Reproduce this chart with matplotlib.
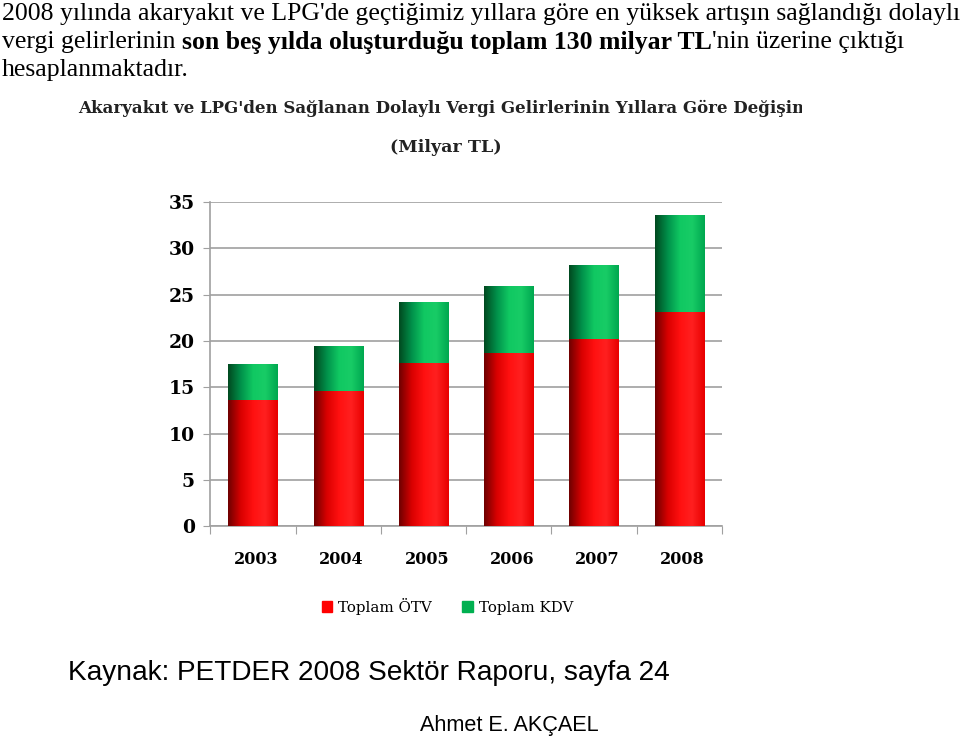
import numpy as np
import matplotlib
matplotlib.use("Agg")
import matplotlib.pyplot as plt
from matplotlib.colors import LinearSegmentedColormap
from matplotlib.transforms import Bbox, TransformedBbox

years = ["2003", "2004", "2005", "2006", "2007", "2008"]
otv = [13.6, 14.6, 17.6, 18.7, 20.2, 23.1]
kdv = [3.95, 4.85, 6.6, 7.2, 8.0, 10.5]
yticks = [0, 5, 10, 15, 20, 25, 30, 35]

serif = "DejaVu Serif"
fig = plt.figure(figsize=(9.6, 7.4), dpi=100)
fig.patch.set_facecolor("white")

# intro text on top
tfont = dict(family="Liberation Serif", fontsize=18.5)
fig.text(0.002, 0.981, "2008 yılında akaryakıt ve LPG'de geçtiğimiz yıllara göre en yüksek artışın sağlandığı dolaylı",
         va="center", ha="left", **tfont)
r = fig.canvas.get_renderer()
parts = [("vergi gelirlerinin ", "normal"),
         ("son beş yılda oluşturduğu toplam 130 milyar TL", "bold"),
         ("'nin üzerine çıktığı", "normal")]
x = 0.002
for s, w in parts:
    t = fig.text(x, 0.943, s, va="center", ha="left", fontweight=w, **tfont)
    bb = t.get_window_extent(renderer=r)
    x = bb.x1 / fig.bbox.width
fig.text(0.002, 0.905, "hesaplanmaktadır.", va="center", ha="left", **tfont)

# chart title (clipped like in the source image)
tt = fig.text(0.081, 0.854, "Akaryakıt ve LPG'den Sağlanan Dolaylı Vergi Gelirlerinin Yıllara Göre Değişimi",
              family=serif, fontweight="bold", fontsize=12.0, va="center", ha="left", color="#222222")
tt.set_clip_box(TransformedBbox(Bbox([[0, 0], [0.835, 1]]), fig.transFigure))
tt.set_clip_on(True)
fig.text(0.464, 0.800, "(Milyar TL)", family=serif, fontweight="bold", fontsize=12.6,
         va="center", ha="center", color="#222222")

ax = fig.add_axes([0.219, 0.289, 0.533, 0.438])
xpos = np.arange(len(years))
bw = 0.575
red = ax.bar(xpos, otv, bw, color="#ff0d0d", zorder=2)
green = ax.bar(xpos, kdv, bw, bottom=otv, color="#10c060", zorder=2)

# cylinder-like shading
grad = np.linspace(0, 1, 64).reshape(1, -1)
cm_r = LinearSegmentedColormap.from_list("r", ["#700000", "#d80000", "#ff1010", "#ff2020", "#e80000"])
cm_g = LinearSegmentedColormap.from_list("g", ["#004a20", "#00904a", "#10c862", "#18cc66", "#00a850"])
for bars, cm in [(red, cm_r), (green, cm_g)]:
    for p in bars:
        x0, y0 = p.get_x(), p.get_y()
        im = ax.imshow(grad, cmap=cm, aspect="auto", zorder=3,
                       extent=[x0, x0 + p.get_width(), y0, y0 + p.get_height()])
        im.set_clip_path(p)

ax.set_xlim(-0.5, 5.5)
ax.set_ylim(0, 35)
ax.set_yticks(yticks)
ax.set_yticklabels([str(v) for v in yticks], family=serif, fontweight="bold", fontsize=13.5)
ax.yaxis.grid(True, color="#a0a0a0", linewidth=1.2, zorder=0)
for s in ["top", "right"]:
    ax.spines[s].set_visible(False)
ax.spines["left"].set_color("#a0a0a0")
ax.spines["bottom"].set_color("#a0a0a0")
ax.spines["left"].set_linewidth(1.2)
ax.spines["bottom"].set_linewidth(1.2)
ax.tick_params(axis="y", length=5, color="#a0a0a0", pad=6)
ax.set_xticks(np.arange(-0.5, 6, 1))
ax.set_xticklabels([])
ax.tick_params(axis="x", length=6, color="#a0a0a0")
ax.set_xticks(xpos + 0.04, minor=True)
ax.set_xticklabels(years, minor=True, family=serif, fontweight="bold", fontsize=11.5)
ax.tick_params(axis="x", which="minor", length=0, pad=18)

# legend
h1 = plt.Rectangle((0, 0), 1, 1, color="#ff0000")
h2 = plt.Rectangle((0, 0), 1, 1, color="#00b050")
fig.legend([h1, h2], ["Toplam ÖTV", "Toplam KDV"], loc="center", bbox_to_anchor=(0.466, 0.181),
           ncol=2, frameon=False, prop=dict(family=serif, size=10.8),
           handlelength=0.7, handleheight=0.7, handletextpad=0.4, columnspacing=2.0)

fig.text(0.071, 0.091, "Kaynak: PETDER 2008 Sektör Raporu, sayfa 24", family="Liberation Sans",
         fontsize=20.2, va="center", ha="left")
fig.text(0.531, 0.019, "Ahmet E. AKÇAEL", family="Liberation Sans", fontsize=15.6, va="center", ha="center")

fig.savefig("out.png", dpi=100, facecolor="white")
